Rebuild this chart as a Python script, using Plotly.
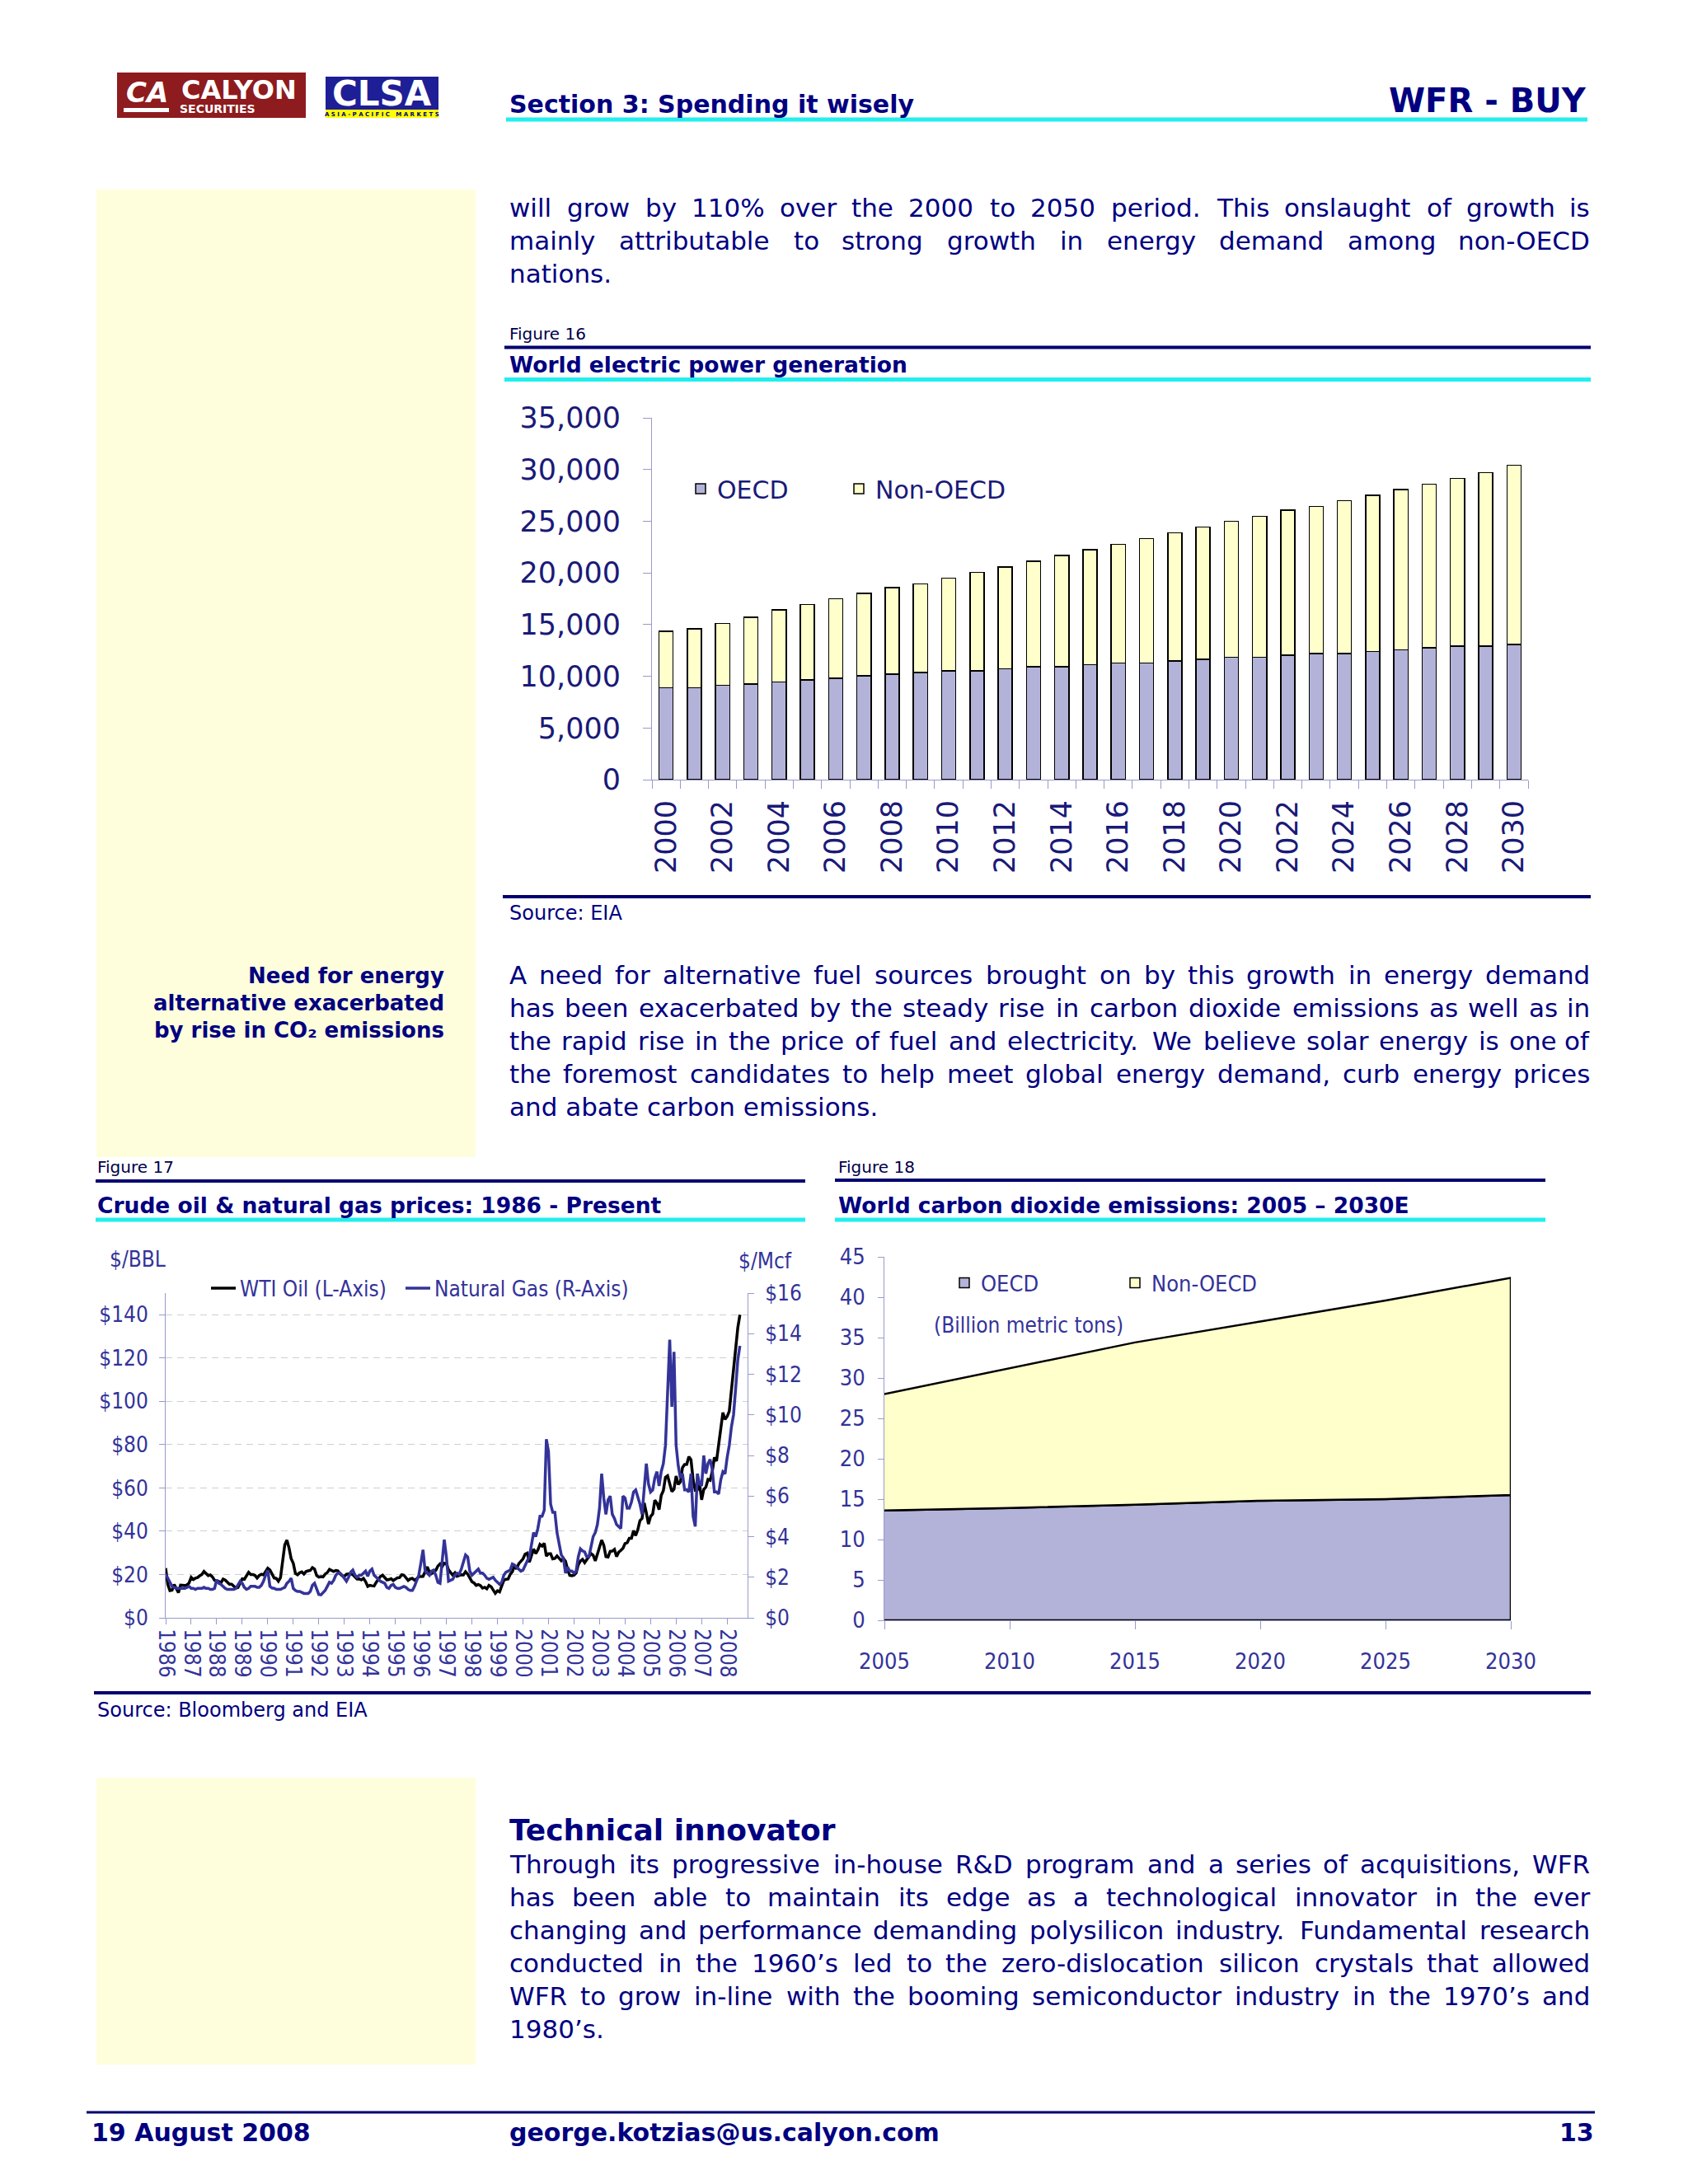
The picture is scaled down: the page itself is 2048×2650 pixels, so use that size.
import plotly.graph_objects as go

# ---------------------------------------------------------------- page setup
W, H = 2048, 2650
SANS = "DejaVu Sans, Verdana, sans-serif"
NARROW = "DejaVu Sans Condensed, Liberation Sans Narrow, Arial Narrow, sans-serif"
NAVY = "#000080"
RULE_NAVY = "#000070"
TICKNAVY = "#1A1A78"
INDIGO = "#333399"
LAVENDER = "#9999CC"
CYAN = "#22EEEE"
YELLOW_BG = "#FEFEDC"
OECD_FILL = "#B3B3D9"
NON_FILL = "#FFFFCC"

# ---------------------------------------------------------------- data
# Figure 16: World electric power generation (billion kWh)
years16 = list(range(2000, 2031))
oecd16 = [8900, 8870, 9130, 9230, 9430, 9640, 9800, 10040, 10200, 10370, 10540,
          10540, 10740, 10940, 10940, 11110, 11270, 11270, 11480, 11640, 11840,
          11840, 12040, 12180, 12180, 12380, 12550, 12750, 12910, 12910, 13080]
non16 = [5450, 5720, 5990, 6460, 7000, 7320, 7700, 7990, 8370, 8570, 8970,
         9530, 9840, 10200, 10740, 11140, 11480, 12050, 12410, 12780, 13150,
         13650, 14020, 14250, 14790, 15120, 15520, 15850, 16230, 16800, 17330]
y16_ticks = [0, 5000, 10000, 15000, 20000, 25000, 30000, 35000]

# Figure 17: monthly prices, Jan 1986 - Jul 2008
wti = [
    22.9, 15.4, 12.6, 12.8, 15.4, 13.5, 11.6, 15.1, 14.9, 14.9, 15.2, 16.1,   # 1986
    18.7, 17.7, 18.3, 18.6, 19.4, 20.0, 21.4, 20.3, 19.5, 19.8, 18.9, 17.3,   # 1987
    17.1, 16.8, 16.2, 17.9, 17.4, 16.5, 15.5, 15.5, 14.5, 13.8, 14.0, 16.3,   # 1988
    18.0, 17.8, 19.4, 21.0, 20.0, 20.0, 19.6, 18.4, 19.6, 20.1, 19.8, 21.1,   # 1989
    22.9, 22.1, 20.4, 18.4, 18.2, 16.9, 18.6, 27.2, 33.7, 35.9, 32.3, 27.3,   # 1990
    25.2, 20.5, 19.9, 20.8, 21.2, 20.2, 21.4, 21.7, 21.9, 23.2, 22.5, 19.5,   # 1991
    18.8, 19.0, 18.9, 20.2, 20.9, 22.4, 21.8, 21.4, 21.9, 21.7, 20.3, 19.4,   # 1992
    19.1, 20.1, 20.3, 20.3, 19.9, 19.1, 17.9, 18.0, 17.5, 18.2, 16.7, 14.5,   # 1993
    15.0, 14.8, 14.7, 16.4, 17.9, 19.1, 19.7, 18.4, 17.5, 17.7, 18.1, 17.2,   # 1994
    18.0, 18.5, 18.6, 19.9, 19.7, 18.4, 17.3, 18.0, 18.2, 17.4, 18.0, 19.0,   # 1995
    18.9, 19.1, 21.3, 23.5, 21.2, 20.4, 21.3, 21.9, 23.9, 24.9, 23.7, 25.2,   # 1996
    25.1, 22.2, 20.9, 19.7, 20.8, 19.2, 19.6, 19.9, 19.8, 21.3, 20.2, 18.3,   # 1997
    16.7, 16.1, 15.0, 15.4, 14.9, 13.7, 14.1, 13.4, 15.0, 14.4, 12.9, 11.3,   # 1998
    12.5, 12.0, 14.7, 17.3, 17.8, 17.9, 20.1, 21.3, 23.9, 22.6, 25.0, 26.1,   # 1999
    27.2, 29.4, 29.9, 25.7, 28.8, 31.8, 29.7, 31.3, 33.9, 33.1, 34.4, 28.5,   # 2000
    29.6, 29.6, 27.2, 27.4, 28.6, 27.6, 26.4, 27.4, 26.2, 22.2, 19.6, 19.4,   # 2001
    19.7, 20.7, 24.5, 26.2, 27.0, 25.5, 26.9, 28.4, 29.7, 28.9, 26.3, 29.4,   # 2002
    32.9, 35.9, 33.5, 28.3, 28.1, 30.7, 30.8, 31.6, 28.3, 30.3, 31.1, 32.1,   # 2003
    34.3, 34.7, 36.7, 36.7, 40.3, 38.0, 40.7, 44.9, 45.9, 53.1, 48.5, 43.3,   # 2004
    46.8, 48.0, 54.3, 53.0, 50.0, 56.5, 58.7, 64.9, 65.6, 62.4, 58.3, 59.4,   # 2005
    65.5, 61.6, 62.7, 69.4, 70.8, 70.9, 74.4, 73.0, 63.8, 58.9, 59.1, 62.0,   # 2006
    54.5, 59.3, 60.4, 63.9, 63.5, 67.5, 74.1, 72.4, 79.9, 85.8, 94.8, 91.7,   # 2007
    93.0, 95.4, 105.5, 112.6, 125.4, 133.9, 140.0,                            # 2008
]
gas = [
    2.15, 1.95, 1.7, 1.55, 1.5, 1.45, 1.45, 1.45, 1.45, 1.45, 1.5, 1.55,      # 1986
    1.45, 1.45, 1.4, 1.45, 1.45, 1.45, 1.5, 1.45, 1.45, 1.4, 1.4, 1.45,       # 1987
    1.87, 1.7, 1.65, 1.55, 1.45, 1.4, 1.4, 1.4, 1.4, 1.45, 1.6, 1.8,          # 1988
    1.7, 1.5, 1.4, 1.45, 1.55, 1.55, 1.55, 1.5, 1.5, 1.6, 1.8, 2.1,           # 1989
    2.35, 1.55, 1.47, 1.45, 1.4, 1.4, 1.4, 1.45, 1.5, 1.7, 1.8, 1.95,         # 1990
    1.45, 1.35, 1.3, 1.3, 1.25, 1.2, 1.2, 1.2, 1.3, 1.6, 1.7, 1.45,           # 1991
    1.15, 1.13, 1.25, 1.35, 1.55, 1.75, 1.7, 1.85, 2.1, 2.2, 2.2, 2.1,        # 1992
    1.95, 1.8, 2.0, 2.25, 2.35, 2.1, 2.0, 2.1, 2.1, 2.2, 2.3, 2.05,           # 1993
    2.3, 2.4, 2.1, 2.0, 1.9, 1.8, 1.75, 1.7, 1.5, 1.45, 1.6, 1.65,            # 1994
    1.5, 1.45, 1.45, 1.5, 1.55, 1.5, 1.4, 1.35, 1.35, 1.55, 1.8, 2.1,         # 1995
    2.7, 3.35, 2.3, 2.2, 2.1, 2.3, 2.35, 2.1, 1.75, 1.7, 2.8, 3.85,           # 1996
    3.0, 1.8, 1.85, 1.9, 2.1, 2.2, 2.15, 2.4, 2.75, 3.1, 3.0, 2.3,            # 1997
    2.1, 2.2, 2.3, 2.4, 2.2, 2.2, 2.1, 1.95, 1.9, 1.95, 2.0, 1.85,            # 1998
    1.75, 1.65, 1.75, 2.1, 2.25, 2.3, 2.35, 2.65, 2.6, 2.5, 2.4, 2.3,         # 1999
    2.35, 2.6, 2.8, 3.0, 3.6, 4.2, 4.0, 4.4, 5.0, 5.0, 5.3, 8.8,              # 2000
    8.2, 5.6, 5.2, 5.2, 4.2, 3.7, 3.1, 2.95, 2.2, 2.5, 2.3, 2.3,              # 2001
    2.2, 2.3, 3.0, 3.4, 3.3, 3.25, 3.0, 3.0, 3.5, 4.0, 4.2, 4.6,              # 2002
    5.4, 7.1, 5.9, 5.1, 5.8, 6.0, 5.1, 4.9, 4.6, 4.5, 4.4, 6.0,               # 2003
    5.9, 5.4, 5.4, 5.7, 6.2, 6.3, 6.0, 5.6, 5.1, 6.4, 7.6, 6.6,               # 2004
    6.2, 6.3, 6.9, 7.2, 6.5, 7.2, 7.6, 8.5, 11.4, 13.7, 10.4, 13.1,           # 2005
    8.5, 7.5, 6.9, 7.1, 6.3, 6.3, 6.2, 7.1, 5.0, 4.5, 7.1, 6.6,               # 2006
    6.5, 8.0, 7.1, 7.6, 7.8, 7.3, 6.2, 6.2, 6.1, 6.8, 7.2, 7.1,               # 2007
    7.9, 8.5, 9.4, 10.0, 11.3, 12.7, 13.4,                                    # 2008
]
years17 = list(range(1986, 2009))
oil_ticks = [0, 20, 40, 60, 80, 100, 120, 140]
gas_ticks = [0, 2, 4, 6, 8, 10, 12, 14, 16]

# Figure 18: World CO2 emissions (billion metric tons)
years18 = [2005, 2010, 2015, 2020, 2025, 2030]
oecd18 = [13.6, 13.9, 14.3, 14.8, 15.0, 15.5]
non18 = [14.4, 17.3, 20.1, 22.2, 24.6, 26.9]
y18_ticks = [0, 5, 10, 15, 20, 25, 30, 35, 40, 45]

# ---------------------------------------------------------------- page text
PARA1 = ["will grow by 110% over the 2000 to 2050 period. This onslaught of growth is",
         "mainly attributable to strong growth in energy demand among non-OECD",
         "nations."]
PARA2 = ["A need for alternative fuel sources brought on by this growth in energy demand",
         "has been exacerbated by the steady rise in carbon dioxide emissions as well as in",
         "the rapid rise in the price of fuel and electricity. We believe solar energy is one of",
         "the foremost candidates to help meet global energy demand, curb energy prices",
         "and abate carbon emissions."]
PARA3 = ["Through its progressive in-house R&D program and a series of acquisitions, WFR",
         "has been able to maintain its edge as a technological innovator in the ever",
         "changing and performance demanding polysilicon industry. Fundamental research",
         "conducted in the 1960\u2019s led to the zero-dislocation silicon crystals that allowed",
         "WFR to grow in-line with the booming semiconductor industry in the 1970\u2019s and",
         "1980\u2019s."]
SIDENOTE = ["Need for energy", "alternative exacerbated", "by rise in CO\u2082 emissions"]

# DejaVu Sans advance widths (units per 2048 em) for justification
ADV = dict(zip("abcdefghijklmnopqrstuvwxyz",
               [1255, 1300, 1126, 1300, 1260, 721, 1300, 1298, 569, 569, 1186, 569, 1995,
                1298, 1253, 1300, 1300, 842, 1067, 803, 1298, 1212, 1675, 1212, 1212, 1075]))
ADV.update(dict(zip("ABCDEFGHIJKLMNOPQRSTUVWXYZ",
                    [1401, 1405, 1430, 1577, 1294, 1178, 1587, 1540, 604, 604, 1343, 1141, 1767,
                     1532, 1612, 1235, 1612, 1423, 1300, 1251, 1499, 1401, 2025, 1403, 1251, 1403])))
ADV.update({d: 1303 for d in "0123456789"})
ADV.update({" ": 651, ".": 651, ",": 651, "-": 739, "%": 1946, "&": 1597,
            "\u2019": 651, "(": 799, ")": 799, ":": 690})


def tw(s, size):
    # hinted rendering rounds each advance to whole pixels
    return sum(round(ADV.get(c, 1250) * size / 2048.0) for c in s)


anns = []
shapes = []


def P(x, y):
    return x / W, 1 - y / H


def text(x, base, s, size, color=NAVY, anchor="left", family=SANS, bold=False, italic=False):
    xx, yy = P(x, base - 0.35 * size)
    anns.append(dict(x=xx, y=yy, xref="paper", yref="paper", text=s, showarrow=False,
                     xanchor=anchor, yanchor="middle", borderpad=0,
                     font=dict(family=family, size=size, color=color,
                               weight="bold" if bold else "normal",
                               style="italic" if italic else "normal")))


def para(lines, x0, x1, base0, lead, size):
    for i, line in enumerate(lines):
        b = base0 + i * lead
        words = line.split(" ")
        if i == len(lines) - 1 or len(words) < 2:
            text(x0, b, line.replace("&", "&amp;"), size)
            continue
        ws = [tw(w, size) for w in words]
        gap = (x1 - x0 - sum(ws)) / (len(words) - 1)
        x = x0
        for j, (w, wd) in enumerate(zip(words, ws)):
            w_html = w.replace("&", "&amp;")
            if j == len(words) - 1:
                text(x1, b, w_html, size, anchor="right")
            else:
                text(x, b, w_html, size)
            x += wd + gap


def hline(y, x0, x1, width, color):
    a0, b0 = P(x0, y)
    a1, _ = P(x1, y)
    shapes.append(dict(type="line", xref="paper", yref="paper", x0=a0, x1=a1, y0=b0, y1=b0,
                       line=dict(color=color, width=width)))


def rect(x0, y0, x1, y1, color, layer="above"):
    a0, b0 = P(x0, y0)
    a1, b1 = P(x1, y1)
    shapes.append(dict(type="rect", xref="paper", yref="paper", x0=a0, x1=a1, y0=b1, y1=b0,
                       fillcolor=color, line=dict(width=0), layer=layer))


# ---------------------------------------------------------------- figure
fig = go.Figure()

# Figure 16 bars
fig.add_trace(go.Bar(x=years16, y=oecd16, name="OECD", legend="legend", showlegend=True,
                     marker=dict(color=OECD_FILL, line=dict(color="black", width=1.5)),
                     xaxis="x", yaxis="y"))
fig.add_trace(go.Bar(x=years16, y=non16, name="Non-OECD", legend="legend2", showlegend=True,
                     marker=dict(color=NON_FILL, line=dict(color="black", width=1.5)),
                     xaxis="x", yaxis="y"))

# Figure 17 lines
months = [1986 + i / 12.0 for i in range(len(wti))]
fig.add_trace(go.Scatter(x=months, y=wti, name="WTI Oil (L-Axis)", legend="legend3",
                         showlegend=True, mode="lines", line=dict(color="black", width=3.5),
                         xaxis="x2", yaxis="y2"))
fig.add_trace(go.Scatter(x=months, y=gas, name="Natural Gas (R-Axis)", legend="legend4",
                         showlegend=True, mode="lines", line=dict(color=INDIGO, width=3.5),
                         xaxis="x2", yaxis="y3"))

# Figure 18 stacked areas (closed outlines)
tot18 = [a + b for a, b in zip(oecd18, non18)]
fig.add_trace(go.Scatter(x=years18 + years18[::-1], y=oecd18 + [0] * len(years18),
                         fill="toself", fillcolor=OECD_FILL, mode="lines",
                         line=dict(color="black", width=2.5), showlegend=False,
                         xaxis="x3", yaxis="y4"))
fig.add_trace(go.Scatter(x=years18 + years18[::-1], y=tot18 + oecd18[::-1],
                         fill="toself", fillcolor=NON_FILL, mode="lines",
                         line=dict(color="black", width=2.5), showlegend=False,
                         xaxis="x3", yaxis="y4"))
# legend keys for figure 18
fig.add_trace(go.Bar(x=[None], y=[None], name="OECD", legend="legend5", showlegend=True,
                     marker=dict(color=OECD_FILL, line=dict(color="black", width=1.5)),
                     xaxis="x3", yaxis="y4"))
fig.add_trace(go.Bar(x=[None], y=[None], name="Non-OECD", legend="legend6", showlegend=True,
                     marker=dict(color=NON_FILL, line=dict(color="black", width=1.5)),
                     xaxis="x3", yaxis="y4"))


def dom_x(a, b):
    return [a / W, b / W]


def dom_y(bottom, top):
    return [1 - bottom / H, 1 - top / H]


def legend_at(x, y, size, color, family):
    xx, yy = P(x, y)
    return dict(x=xx, y=yy, xanchor="left", yanchor="middle", orientation="h",
                bgcolor="rgba(0,0,0,0)", borderwidth=0, visible=True,
                font=dict(family=family, size=size, color=color))


NF = 26  # narrow font size (figures 17/18)

fig.update_layout(
    template="none",
    width=W, height=H, autosize=False,
    margin=dict(l=0, r=0, t=0, b=0, pad=0, autoexpand=False),
    paper_bgcolor="white", plot_bgcolor="rgba(0,0,0,0)",
    font=dict(family=SANS, color=NAVY),
    showlegend=True,
    barmode="stack", bargap=0.5,
    # ---- Figure 16 axes
    xaxis=dict(domain=dom_x(791, 1854), anchor="y", range=[1999.5, 2030.5],
               tickmode="array", tickvals=years16[::2], ticktext=[str(v) for v in years16[::2]],
               tickangle=-90, ticks="", showline=True, linecolor=LAVENDER, linewidth=1,
               showgrid=False, zeroline=False, ticklabelstandoff=10, automargin=False,
               tickfont=dict(family=SANS, size=35, color=TICKNAVY),
               minor=dict(tickmode="array",
                          tickvals=[v - 0.5 for v in years16] + [years16[-1] + 0.5],
                          ticks="outside", ticklen=10, tickcolor=LAVENDER, tickwidth=1)),
    yaxis=dict(domain=dom_y(946, 507), anchor="x", range=[0, 35000],
               tickmode="array", tickvals=y16_ticks, ticktext=[f"{v:,}" for v in y16_ticks],
               ticks="outside", ticklen=10, tickcolor=LAVENDER, showline=True,
               linecolor=LAVENDER, linewidth=1, showgrid=False, zeroline=False,
               automargin=False,
               ticklabelstandoff=20, tickfont=dict(family=SANS, size=35, color=TICKNAVY)),
    # ---- Figure 17 axes
    xaxis2=dict(domain=dom_x(201, 907), anchor="y2", range=[1986, 2008.8],
                tickmode="array", tickvals=years17, ticktext=[str(v) for v in years17],
                tickangle=90, ticks="outside", ticklen=7, tickcolor=LAVENDER,
                showline=True, linecolor=LAVENDER, linewidth=1, showgrid=False,
                zeroline=False, automargin=False,
                tickfont=dict(family=NARROW, size=NF, color=INDIGO)),
    yaxis2=dict(domain=dom_y(1963, 1569), anchor="x2", range=[0, 150],
                tickmode="array", tickvals=oil_ticks, ticktext=[f"${v}" for v in oil_ticks],
                ticks="outside", ticklen=7, tickcolor=LAVENDER, showline=True,
                linecolor=LAVENDER, linewidth=1, zeroline=False, automargin=False,
                showgrid=True, gridcolor="#CFCFCF", gridwidth=1, griddash="8px,6px",
                ticklabelstandoff=8, tickfont=dict(family=NARROW, size=NF, color=INDIGO)),
    yaxis3=dict(overlaying="y2", side="right", anchor="x2", range=[0, 16],
                tickmode="array", tickvals=gas_ticks, ticktext=[f"${v}" for v in gas_ticks],
                ticks="outside", ticklen=7, tickcolor=LAVENDER, showline=True,
                linecolor=LAVENDER, linewidth=1, zeroline=False, showgrid=False,
                automargin=False,
                ticklabelstandoff=8, tickfont=dict(family=NARROW, size=NF, color=INDIGO)),
    # ---- Figure 18 axes
    xaxis3=dict(domain=dom_x(1073, 1833), anchor="y4", range=[2005, 2030],
                tickmode="array", tickvals=years18, ticktext=[str(v) for v in years18],
                ticks="outside", ticklen=10,
                tickcolor=LAVENDER, showline=True, linecolor=LAVENDER, linewidth=1,
                showgrid=False, zeroline=False, ticklabelstandoff=16, automargin=False,
                tickfont=dict(family=NARROW, size=NF + 1, color=INDIGO)),
    yaxis4=dict(domain=dom_y(1966, 1525), anchor="x3", range=[0, 45],
                tickmode="array", tickvals=y18_ticks, ticktext=[str(v) for v in y18_ticks],
                ticks="outside", ticklen=7,
                tickcolor=LAVENDER, showline=True, linecolor=LAVENDER, linewidth=1,
                showgrid=False, zeroline=False, ticklabelstandoff=10, automargin=False,
                tickfont=dict(family=NARROW, size=NF + 1, color=INDIGO)),
    legend=legend_at(830, 593, 30, TICKNAVY, SANS),
    legend2=legend_at(1022, 593, 30, TICKNAVY, SANS),
    legend3=legend_at(251, 1563, NF, INDIGO, NARROW),
    legend4=legend_at(487, 1563, NF, INDIGO, NARROW),
    legend5=legend_at(1150, 1557, NF + 1, INDIGO, NARROW),
    legend6=legend_at(1357, 1557, NF + 1, INDIGO, NARROW),
)

# ---------------------------------------------------------------- page furniture
# yellow side panels
rect(117, 230, 577, 1404, YELLOW_BG, layer="below")
rect(117, 2157, 577, 2505, YELLOW_BG, layer="below")

# logos
rect(142, 88, 371, 143, "#8E1B1E")
rect(150, 131, 205, 136, "white")
rect(395, 93, 532, 133, "#1E1E96")
rect(395, 133, 532, 143, "#FFFF00")
text(178, 124, "CA", 34, color="white", anchor="center", bold=True, italic=True)
text(290, 120, "CALYON", 32, color="white", anchor="center", bold=True)
text(264, 137, "SECURITIES", 14, color="white", anchor="center", bold=True)
text(463, 128, "CLSA", 42, color="white", anchor="center", bold=True)
text(463, 141, "A S I A - P A C I F I C   M A R K E T S", 7, color=NAVY, anchor="center", bold=True)

# header
text(617, 137, "Section 3: Spending it wisely", 30, bold=True)
text(1926, 136, "WFR - BUY", 40, anchor="right", bold=True)
hline(145, 614, 1926, 5, CYAN)

# paragraph 1
para(PARA1, 617, 1930, 263, 40, 31)

# Figure 16 block
text(617, 412, "Figure 16", 20, color="#00004A")
hline(421.5, 612, 1930, 4, RULE_NAVY)
text(617, 452, "World electric power generation", 26.5, bold=True)
hline(460.5, 612, 1930, 5, CYAN)
hline(1088, 610, 1930, 4, RULE_NAVY)
text(617, 1116, "Source: EIA", 24)

# side note + paragraph 2
for i, s in enumerate(SIDENOTE):
    text(540, 1193 + i * 33, s, 26, anchor="right", bold=True)
para(PARA2, 617, 1930, 1194, 40, 31)

# Figure 17 / 18 headers
text(117, 1423, "Figure 17", 20, color="#00004A")
hline(1433, 116, 977, 4, RULE_NAVY)
text(117, 1472, "Crude oil &amp; natural gas prices: 1986 - Present", 26.5, bold=True)
hline(1480, 116, 977, 5, CYAN)
text(1016, 1423, "Figure 18", 20, color="#00004A")
hline(1432, 1013, 1875, 4, RULE_NAVY)
text(1016, 1472, "World carbon dioxide emissions: 2005 \u2013 2030E", 26.5, bold=True)
hline(1480, 1013, 1875, 5, CYAN)

# chart labels
text(132, 1537, "$/BBL", NF, color=INDIGO, family=NARROW)
text(895, 1539, "$/Mcf", NF, color=INDIGO, family=NARROW)
text(1132, 1617, "(Billion metric tons)", NF, color=INDIGO, family=NARROW)

hline(2054, 114, 1930, 4, RULE_NAVY)
text(117, 2083, "Source: Bloomberg and EIA", 24)

# Technical innovator
text(617, 2233, "Technical innovator", 36, bold=True)
para(PARA3, 617, 1930, 2273, 40, 31)

# footer
hline(2563, 105, 1935, 3, RULE_NAVY)
text(110, 2598, "19 August 2008", 30, bold=True)
text(617, 2598, "george.kotzias@us.calyon.com", 30, bold=True)
text(1935, 2598, "13", 30, anchor="right", bold=True)

fig.update_layout(annotations=anns, shapes=shapes)

fig.write_html("out.html", include_plotlyjs=True, full_html=True,
               config={"displayModeBar": False},
               post_script="document.body.style.margin='0px';")
